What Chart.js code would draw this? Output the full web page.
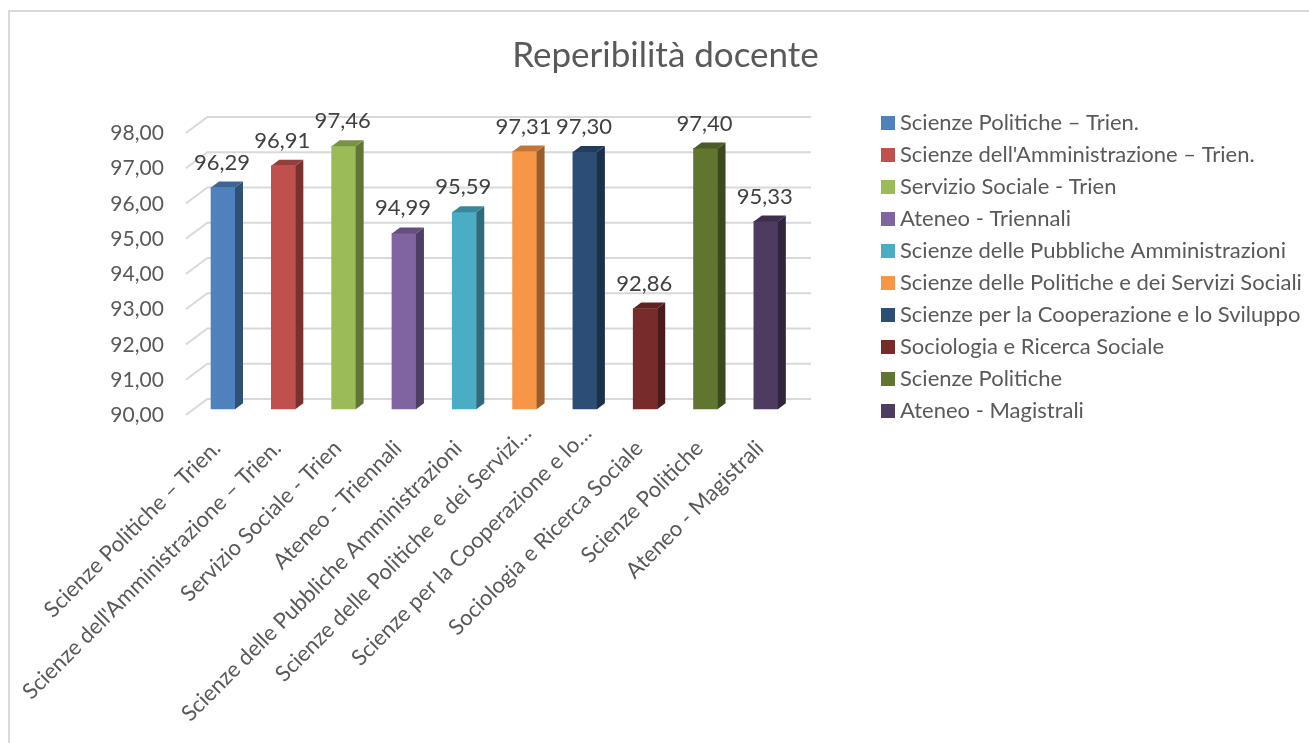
<!DOCTYPE html>
<html>
<head>
<meta charset="utf-8">
<script src="https://cdn.jsdelivr.net/npm/chart.js@4"></script>
<style>
  html, body { margin: 0; padding: 0; background: #fff; overflow: hidden; }
  canvas { display: block; }
</style>
</head>
<body>
<canvas id="reperibilita" width="1309" height="743"></canvas>
<script>
const categories = [
  "Scienze Politiche – Trien.",
  "Scienze dell'Amministrazione – Trien.",
  "Servizio Sociale - Trien",
  "Ateneo - Triennali",
  "Scienze delle Pubbliche Amministrazioni",
  "Scienze delle Politiche e dei Servizi Sociali",
  "Scienze per la Cooperazione e lo Sviluppo",
  "Sociologia e Ricerca Sociale",
  "Scienze Politiche",
  "Ateneo - Magistrali"
];
const axisLabels = [
  "Scienze Politiche – Trien.",
  "Scienze dell'Amministrazione – Trien.",
  "Servizio Sociale - Trien",
  "Ateneo - Triennali",
  "Scienze delle Pubbliche Amministrazioni",
  "Scienze delle Politiche e dei Servizi…",
  "Scienze per la Cooperazione e lo…",
  "Sociologia e Ricerca Sociale",
  "Scienze Politiche",
  "Ateneo - Magistrali"
];
const values = [96.29, 96.91, 97.46, 94.99, 95.59, 97.31, 97.30, 92.86, 97.40, 95.33];
const colors = ["#4F81BD", "#C0504D", "#9BBB59", "#8064A2", "#4BACC6", "#F79646", "#2C4D75", "#772C2A", "#5F7530", "#4D3B62"];

const FONT = "Lato, sans-serif";
const TEXT = "#595959";

function fmt(v) {
  return v.toFixed(2).replace(".", ",");
}

function shade(hex, f) {
  let n = parseInt(hex.slice(1), 16);
  let r = Math.round((n >> 16) * f);
  let g = Math.round(((n >> 8) & 255) * f);
  let b = Math.round((n & 255) * f);
  return "rgb(" + r + "," + g + "," + b + ")";
}

function poly(ctx, pts, color) {
  ctx.fillStyle = color;
  ctx.beginPath();
  ctx.moveTo(pts[0][0], pts[0][1]);
  for (let i = 1; i < pts.length; i++) ctx.lineTo(pts[i][0], pts[i][1]);
  ctx.closePath();
  ctx.fill();
}

// grid on the back wall, bar depth, value labels and the legend column
const look3d = {
  id: "look3d",
  afterLayout(chart) {
    // the title is centred over the whole picture, not over the plot
    chart.titleBlock.left = 22;
    chart.titleBlock.right = 1309;
    // the two shortened labels sit further up the diagonal than the others
    const items = chart.scales.x.getLabelItems();
    [5, 6].forEach(function (i) {
      items[i].options.translation[0] += 9;
      items[i].options.translation[1] -= 15;
    });
  },
  beforeDraw(chart) {
    const ctx = chart.ctx;
    ctx.save();
    ctx.strokeStyle = "#d9d9d9";
    ctx.lineWidth = 2;
    ctx.beginPath();
    ctx.moveTo(9, 743);
    ctx.lineTo(9, 11);
    ctx.lineTo(1309, 11);
    ctx.stroke();
    ctx.restore();
  },
  beforeDatasetsDraw(chart) {
    const ctx = chart.ctx, area = chart.chartArea, y = chart.scales.y;
    ctx.save();
    ctx.strokeStyle = "#d9d9d9";
    ctx.lineWidth = 2;
    y.ticks.forEach(function (t) {
      const py = y.getPixelForValue(t.value);
      ctx.beginPath();
      ctx.moveTo(area.left - 7, py + 5.7);
      ctx.lineTo(area.left + 14.5, py - 10.4);
      ctx.lineTo(area.right + 15, py - 10.4);
      ctx.stroke();
    });
    ctx.restore();
  },
  afterDatasetsDraw(chart) {
    const ctx = chart.ctx, bottom = chart.chartArea.bottom;
    const bars = chart.getDatasetMeta(0).data;
    ctx.save();
    bars.forEach(function (bar, i) {
      const r = bar.x + bar.width / 2, l = bar.x - bar.width / 2;
      poly(ctx, [[r, bottom], [r + 8, bottom - 6], [r + 8, bar.y - 6], [r, bar.y]], shade(colors[i], 0.62));
      poly(ctx, [[l, bar.y], [l + 8, bar.y - 6], [r + 8, bar.y - 6], [r, bar.y]], shade(colors[i], 0.78));
      ctx.fillStyle = "#404040";
      ctx.font = "22px " + FONT;
      ctx.textAlign = "center";
      ctx.textBaseline = "middle";
      ctx.fillText(fmt(values[i]), bar.x - 1, bar.y - 25);
    });
    // legend
    ctx.textAlign = "left";
    ctx.textBaseline = "middle";
    ctx.font = "22px " + FONT;
    categories.forEach(function (name, i) {
      const rowY = 123 + i * 32;
      ctx.fillStyle = colors[i];
      ctx.fillRect(881, rowY - 7, 14, 14);
      ctx.fillStyle = TEXT;
      ctx.fillText(name, 900, rowY);
    });
    ctx.restore();
  }
};

new Chart(document.getElementById("reperibilita"), {
  type: "bar",
  plugins: [look3d],
  data: {
    labels: categories,
    datasets: [{ data: values, backgroundColor: colors, barThickness: 24 }]
  },
  options: {
    responsive: false,
    animation: false,
    layout: { padding: { left: 22, right: 513, top: 0, bottom: 0 } },
    plugins: {
      legend: { display: false },
      tooltip: { enabled: false },
      title: {
        display: true,
        text: "Reperibilità docente",
        color: TEXT,
        font: { family: FONT, size: 35, weight: "normal" },
        padding: { top: 35, bottom: 50.3 }
      }
    },
    scales: {
      x: {
        grid: { display: false, drawTicks: false },
        border: { display: false },
        afterFit(s) { s.height = 333.7; },
        ticks: {
          autoSkip: false,
          minRotation: 45,
          maxRotation: 45,
          padding: 26,
          labelOffset: -6,
          color: TEXT,
          font: { family: FONT, size: 22 },
          callback: function (v, i) { return axisLabels[i]; }
        }
      },
      y: {
        min: 90,
        max: 98,
        grid: { display: false, drawTicks: false },
        border: { display: false },
        afterFit(s) { s.width = 170.85; },
        ticks: {
          stepSize: 1,
          padding: 29,
          labelOffset: 6,
          color: TEXT,
          font: { family: FONT, size: 21 },
          callback: function (v) { return fmt(v); }
        }
      }
    }
  }
});
</script>
</body>
</html>
